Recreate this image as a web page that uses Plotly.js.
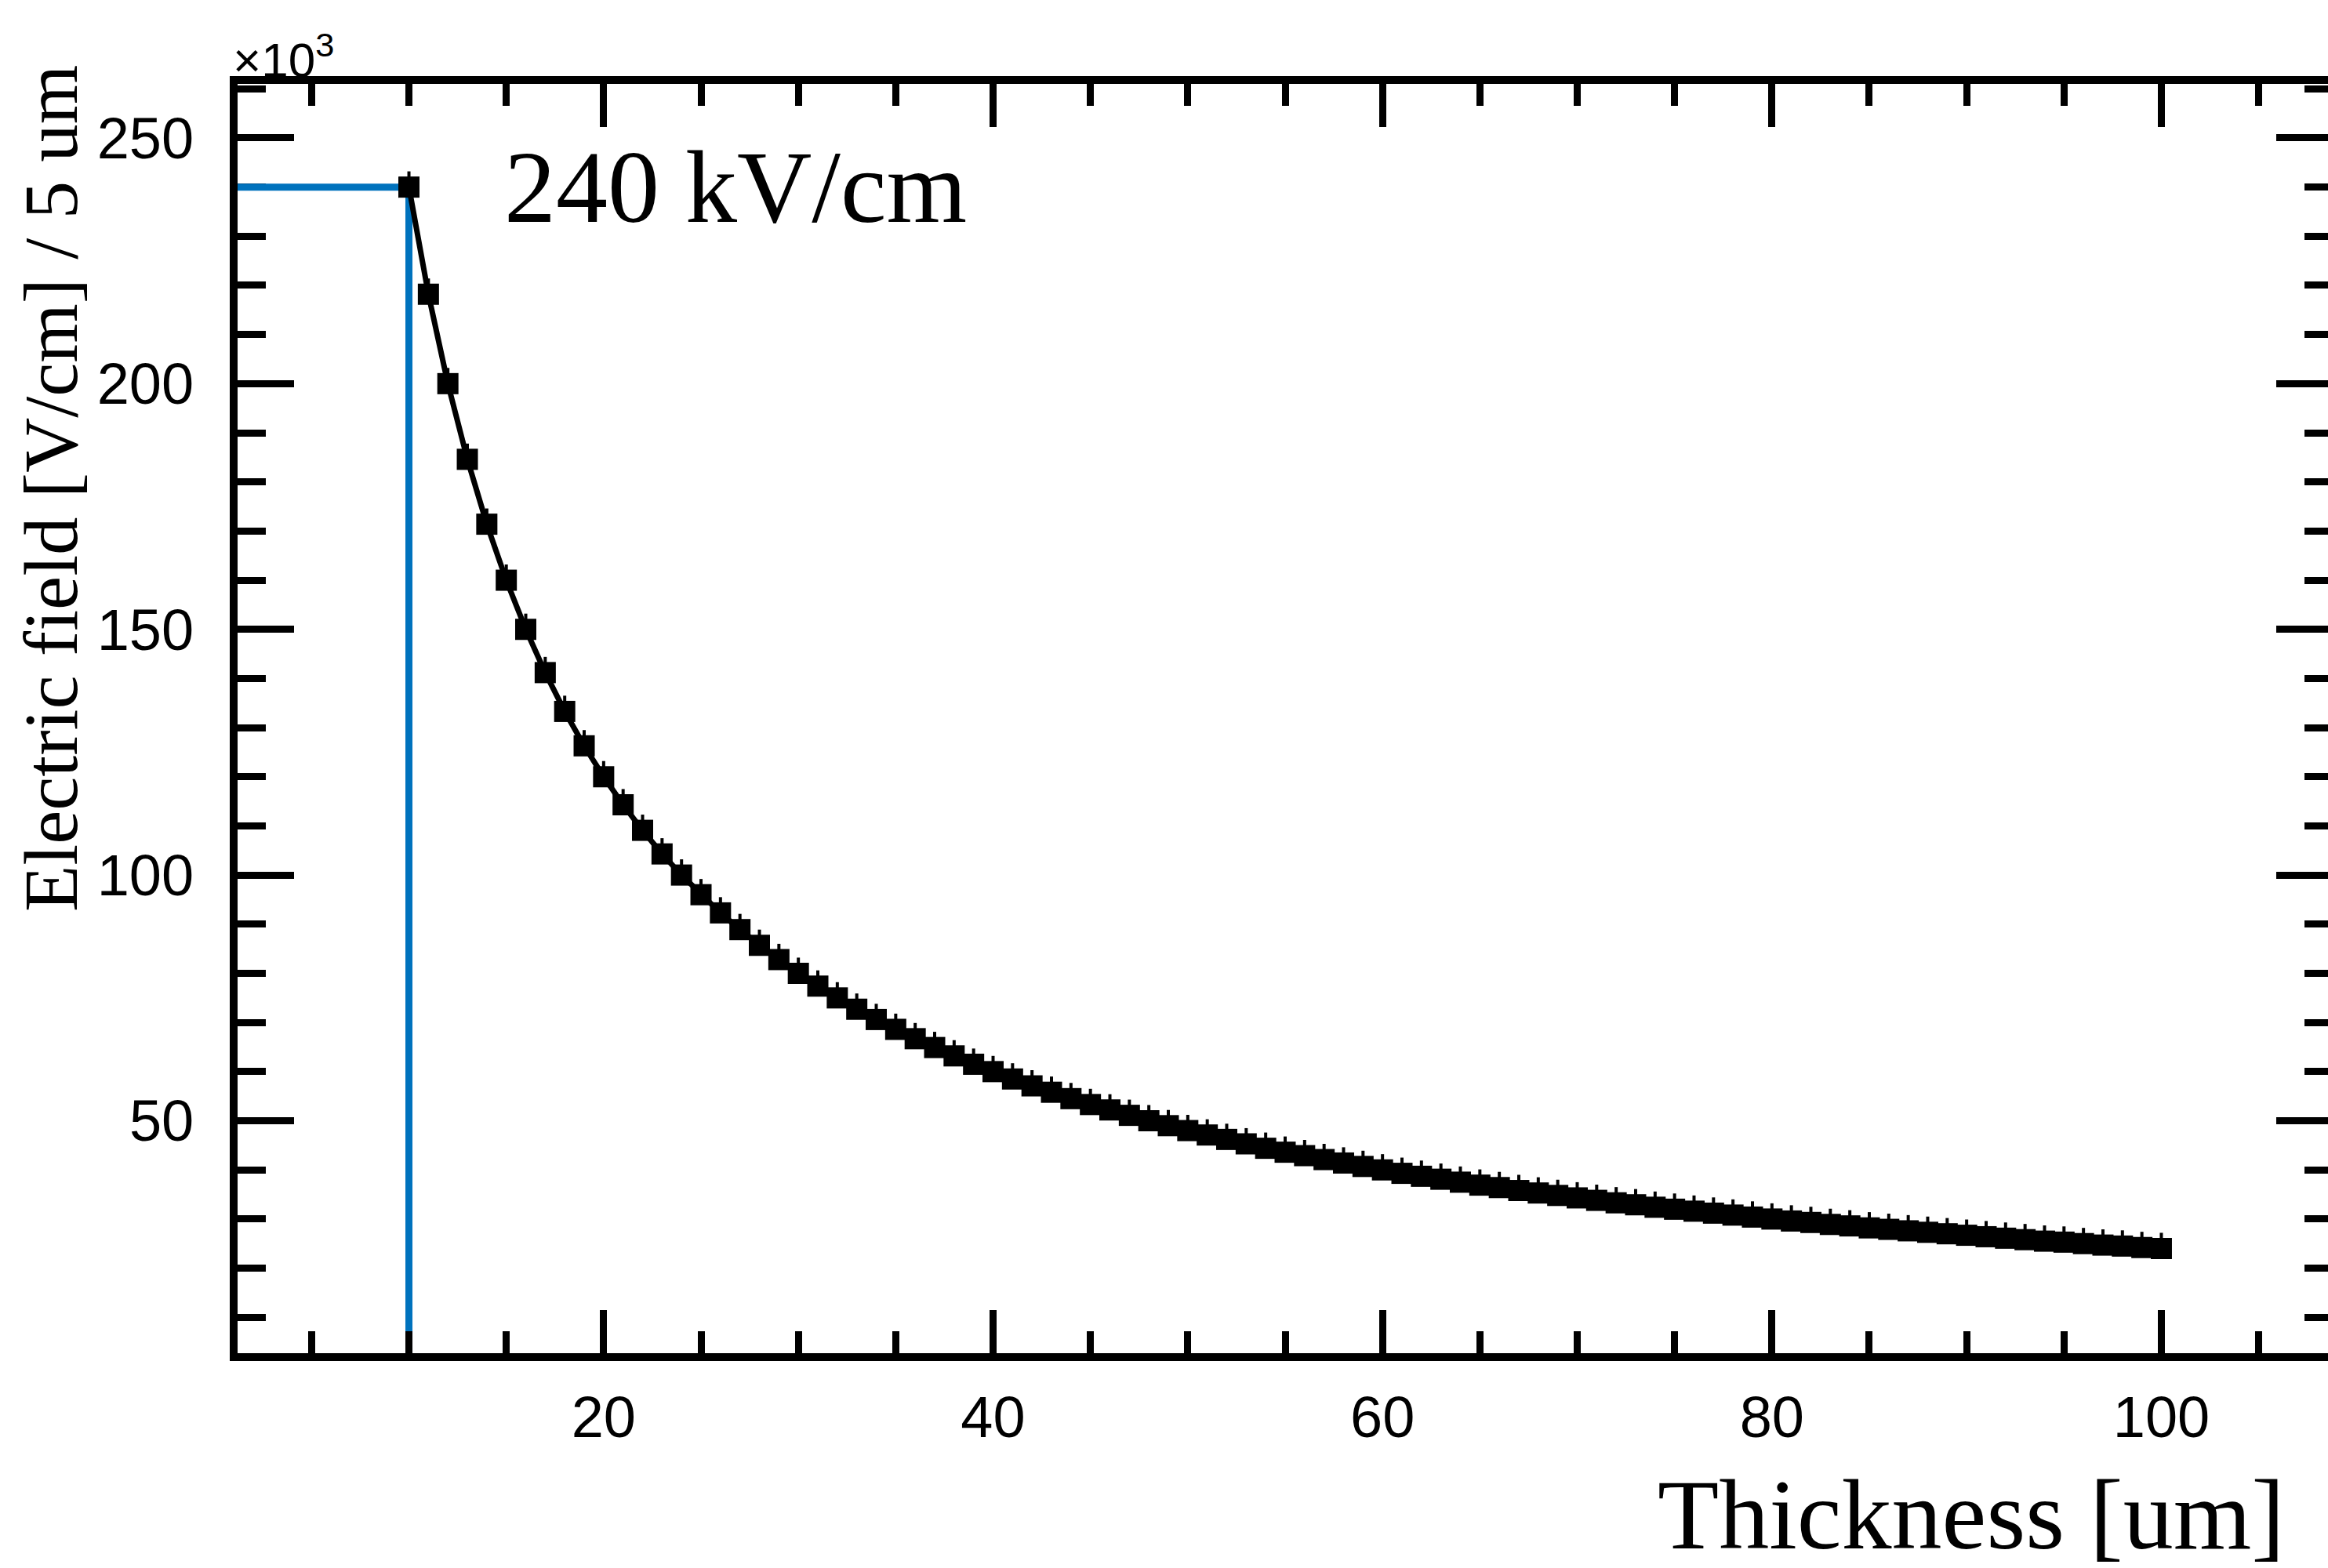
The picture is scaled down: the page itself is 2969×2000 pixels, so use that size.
<!DOCTYPE html>
<html>
<head>
<meta charset="utf-8">
<script src="https://cdn.plot.ly/plotly-3.0.1.min.js"></script>
<style>
  html, body { margin: 0; padding: 0; background: #ffffff; overflow: hidden; }
  #chart { width: 2990px; height: 2000px; }
</style>
</head>
<body>
<div id="chart"></div>
<script>
// Thickness [um] (bin centres)
const thickness = [10, 11, 12, 13, 14, 15, 16, 17, 18, 19,
  20, 21, 22, 23, 24, 25, 26, 27, 28, 29,
  30, 31, 32, 33, 34, 35, 36, 37, 38, 39,
  40, 41, 42, 43, 44, 45, 46, 47, 48, 49,
  50, 51, 52, 53, 54, 55, 56, 57, 58, 59,
  60, 61, 62, 63, 64, 65, 66, 67, 68, 69,
  70, 71, 72, 73, 74, 75, 76, 77, 78, 79,
  80, 81, 82, 83, 84, 85, 86, 87, 88, 89,
  90, 91, 92, 93, 94, 95, 96, 97, 98, 99, 100];

// Electric field, in units of 10^3 V/cm
const field = [240.0, 218.2, 200.0, 184.6, 171.4, 160.0, 150.0, 141.2, 133.3, 126.3,
  120.0, 114.3, 109.1, 104.3, 100.0, 96.0, 92.3, 88.9, 85.7, 82.8,
  80.0, 77.4, 75.0, 72.7, 70.6, 68.6, 66.7, 64.9, 63.2, 61.5,
  60.0, 58.5, 57.1, 55.8, 54.5, 53.3, 52.2, 51.1, 50.0, 49.0,
  48.0, 47.1, 46.2, 45.3, 44.4, 43.6, 42.9, 42.1, 41.4, 40.7,
  40.0, 39.3, 38.7, 38.1, 37.5, 36.9, 36.4, 35.8, 35.3, 34.8,
  34.3, 33.8, 33.3, 32.9, 32.4, 32.0, 31.6, 31.2, 30.8, 30.4,
  30.0, 29.6, 29.3, 28.9, 28.6, 28.2, 27.9, 27.6, 27.3, 27.0,
  26.7, 26.4, 26.1, 25.8, 25.5, 25.3, 25.0, 24.7, 24.5, 24.2, 24.0];

const xRange = [1.2, 108.8];
const yRange = [2.7, 261];

const xTitle = "Thickness [um]";
const yTitle = "Electric field [V/cm] / 5 um";
const yExponent = "×10<sup>3</sup>";
const peakLabel = field[0] + " kV/cm";

const serif = "Liberation Serif, Times New Roman, serif";
const sans = "Liberation Sans, Arial, Helvetica, sans-serif";

// guide lines marking the peak field at the first bin
const guide = {
  x: [xRange[0], thickness[0], thickness[0]],
  y: [field[0], field[0], yRange[0]],
  mode: "lines",
  line: { color: "#0072BD", width: 9 },
  hoverinfo: "skip",
  showlegend: false
};

const curve = {
  x: thickness,
  y: field,
  mode: "lines+markers",
  line: { color: "#000000", width: 7 },
  marker: { symbol: "square", size: 27, color: "#000000" },
  error_y: { type: "constant", value: 3.2, symmetric: false, valueminus: 0,
             thickness: 4, width: 0, color: "#000000" },
  showlegend: false
};

const layout = {
  width: 2990,
  height: 2000,
  margin: { l: 303, r: 15, t: 107, b: 274 },
  paper_bgcolor: "#ffffff",
  plot_bgcolor: "#ffffff",
  showlegend: false,
  xaxis: {
    range: xRange,
    tick0: 0, dtick: 20,
    ticks: "inside", ticklen: 55, tickwidth: 9, tickcolor: "#000000",
    minor: { dtick: 5, tick0: 0, ticks: "inside", ticklen: 28, tickwidth: 9, tickcolor: "#000000", showgrid: false },
    showline: true, linewidth: 10, linecolor: "#000000", mirror: "ticks",
    showgrid: false, zeroline: false,
    tickfont: { family: sans, size: 74, color: "#000000" },
    ticklabelstandoff: 8
  },
  yaxis: {
    range: yRange,
    tick0: 0, dtick: 50,
    ticks: "inside", ticklen: 72, tickwidth: 9, tickcolor: "#000000",
    minor: { dtick: 10, tick0: 0, ticks: "inside", ticklen: 36, tickwidth: 9, tickcolor: "#000000", showgrid: false },
    showline: true, linewidth: 10, linecolor: "#000000", mirror: "ticks",
    showgrid: false, zeroline: false, layer: "below traces",
    tickfont: { family: sans, size: 74, color: "#000000" },
    ticklabelstandoff: 31
  },
  annotations: [
    {
      text: peakLabel, xref: "x", yref: "y", x: 14.8, y: field[0],
      xanchor: "left", yanchor: "middle", showarrow: false,
      font: { family: serif, size: 132, color: "#000000" }
    },
    {
      text: xTitle, xref: "paper", yref: "paper", x: 0.978, y: 0,
      xanchor: "right", yanchor: "middle", yshift: -206, showarrow: false,
      font: { family: serif, size: 128, color: "#000000" }
    },
    {
      text: yTitle, xref: "paper", yref: "paper", x: -0.0887, y: 0.6813,
      xanchor: "center", yanchor: "middle", textangle: -90, showarrow: false,
      font: { family: serif, size: 97, color: "#000000" }
    },
    {
      text: yExponent, xref: "paper", yref: "paper", x: 0, y: 1,
      xanchor: "left", yanchor: "bottom", xshift: -8, yshift: -6, showarrow: false,
      font: { family: sans, size: 62, color: "#000000" }
    }
  ]
};

Plotly.newPlot("chart", [guide, curve], layout, { staticPlot: true, displayModeBar: false });
</script>
</body>
</html>
